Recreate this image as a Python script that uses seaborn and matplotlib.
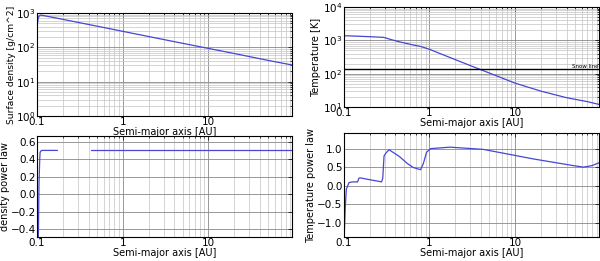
import numpy as np
import matplotlib
matplotlib.use('Agg')
import matplotlib.pyplot as plt
import seaborn as sns

# values

# surface density [g/cm^2] vs semi-major axis [AU]
sd_au = [0.1, 0.101, 0.103, 0.106, 0.1105, 0.115, 0.13, 0.2, 0.5, 1, 2, 5, 10, 20, 50, 95]
sd_val = [280, 480, 700, 820, 875, 860, 810, 655, 415, 293, 207, 131, 93, 66, 41.5, 30.5]

# temperature [K] vs semi-major axis [AU]
t_au = [0.1, 0.15, 0.2, 0.29, 0.31, 0.35, 0.45, 0.6, 0.8, 1.0, 1.5, 2, 3, 5, 10, 20, 40, 70, 95]
t_val = [1380, 1330, 1290, 1230, 1180, 1070, 900, 760, 650, 540, 355, 265, 175, 105, 52, 30, 19, 14.5, 12]
snow_line = 140

# density power law (two pieces, gap in between)
dp_au1 = [0.1, 0.103, 0.104, 0.1045, 0.1055, 0.1075, 0.1086, 0.113, 0.173]
dp_val1 = [-1.5, -0.6, -0.4, -0.22, 0.12, 0.39, 0.48, 0.5, 0.5]
dp_au2 = [0.43, 95]
dp_val2 = [0.5, 0.5]

# temperature power law
tp_au = [0.1, 0.101, 0.104, 0.107, 0.115, 0.125, 0.145, 0.15, 0.155, 0.2, 0.25, 0.276,
         0.285, 0.295, 0.31, 0.338, 0.45, 0.55, 0.647, 0.787, 0.85, 0.925, 1.03, 1.74,
         4.25, 16.5, 48, 63, 79, 96]
tp_val = [-1.6, -1.4, -0.6, -0.1, 0.08, 0.1, 0.1, 0.2, 0.21, 0.16, 0.12, 0.1,
          0.2, 0.8, 0.88, 0.97, 0.78, 0.6, 0.49, 0.43, 0.6, 0.9, 1.0, 1.04,
          0.98, 0.72, 0.54, 0.5, 0.54, 0.62]

xticks = [0.1, 1, 10]
xticklabels = ['0.1', '1', '10']

sns.set_style('white')
plt.rcParams['font.family'] = ['DejaVu Sans']
plt.rcParams['xtick.direction'] = 'in'
plt.rcParams['ytick.direction'] = 'in'
plt.rcParams['xtick.top'] = True
plt.rcParams['ytick.right'] = True
plt.rcParams['text.color'] = 'black'
plt.rcParams['axes.labelcolor'] = 'black'
plt.rcParams['xtick.color'] = 'black'
plt.rcParams['ytick.color'] = 'black'

line_color = '#4646d2'
tick_fs = 7.5
label_fs = 7

fig = plt.figure(figsize=(6, 2.61), dpi=100)
ax1 = fig.add_axes([0.0617, 0.556, 0.4253, 0.394])
ax2 = fig.add_axes([0.573, 0.590, 0.425, 0.383])
ax3 = fig.add_axes([0.0617, 0.092, 0.4253, 0.387])
ax4 = fig.add_axes([0.573, 0.092, 0.425, 0.398])


def style_ax(ax, logy):
    ax.set_xscale('log')
    if logy:
        ax.set_yscale('log')
    ax.set_xlim(0.1, 95)
    ax.set_xticks(xticks)
    ax.set_xticklabels(xticklabels)
    ax.grid(True, which='major', color='#888888', linewidth=0.6)
    ax.grid(True, which='minor', axis='x', color='#c4c4c4', linewidth=0.5)
    if logy:
        ax.grid(True, which='minor', axis='y', color='#c4c4c4', linewidth=0.5)
    ax.tick_params(which='both', labelsize=tick_fs, length=3, width=0.5, pad=1)
    ax.tick_params(which='minor', length=1.5)
    for s in ax.spines.values():
        s.set_color('black')
        s.set_linewidth(0.8)
    ax.set_xlabel('Semi-major axis [AU]', fontsize=label_fs, labelpad=0)


# surface density
sns.lineplot(x=sd_au, y=sd_val, ax=ax1, color=line_color, linewidth=0.9)
style_ax(ax1, True)
ax1.set_ylim(1, 1000)
ax1.set_ylabel('Surface density [g/cm^2]', fontsize=6.6, labelpad=0)

# temperature
sns.lineplot(x=t_au, y=t_val, ax=ax2, color=line_color, linewidth=0.9)
ax2.axhline(snow_line, color='black', linewidth=1.0)
ax2.text(46, snow_line, 'Snow line', fontsize=4, va='bottom', ha='left', clip_on=True)
style_ax(ax2, True)
ax2.set_ylim(10, 1e4)
ax2.set_ylabel('Temperature [K]', fontsize=label_fs, labelpad=1)

# density power law
sns.lineplot(x=dp_au1, y=dp_val1, ax=ax3, color=line_color, linewidth=0.9)
sns.lineplot(x=dp_au2, y=dp_val2, ax=ax3, color=line_color, linewidth=0.9)
style_ax(ax3, False)
ax3.set_ylim(-0.49, 0.665)
ax3.set_yticks([-0.4, -0.2, 0.0, 0.2, 0.4, 0.6])
ax3.set_ylabel('density power law', fontsize=label_fs, labelpad=0)

# temperature power law
sns.lineplot(x=tp_au, y=tp_val, ax=ax4, color=line_color, linewidth=0.9)
style_ax(ax4, False)
ax4.set_ylim(-1.39, 1.42)
ax4.set_yticks([-1.0, -0.5, 0.0, 0.5, 1.0])
ax4.set_ylabel('Temperature power law', fontsize=label_fs, labelpad=1)

fig.savefig('out.png', dpi=100)
